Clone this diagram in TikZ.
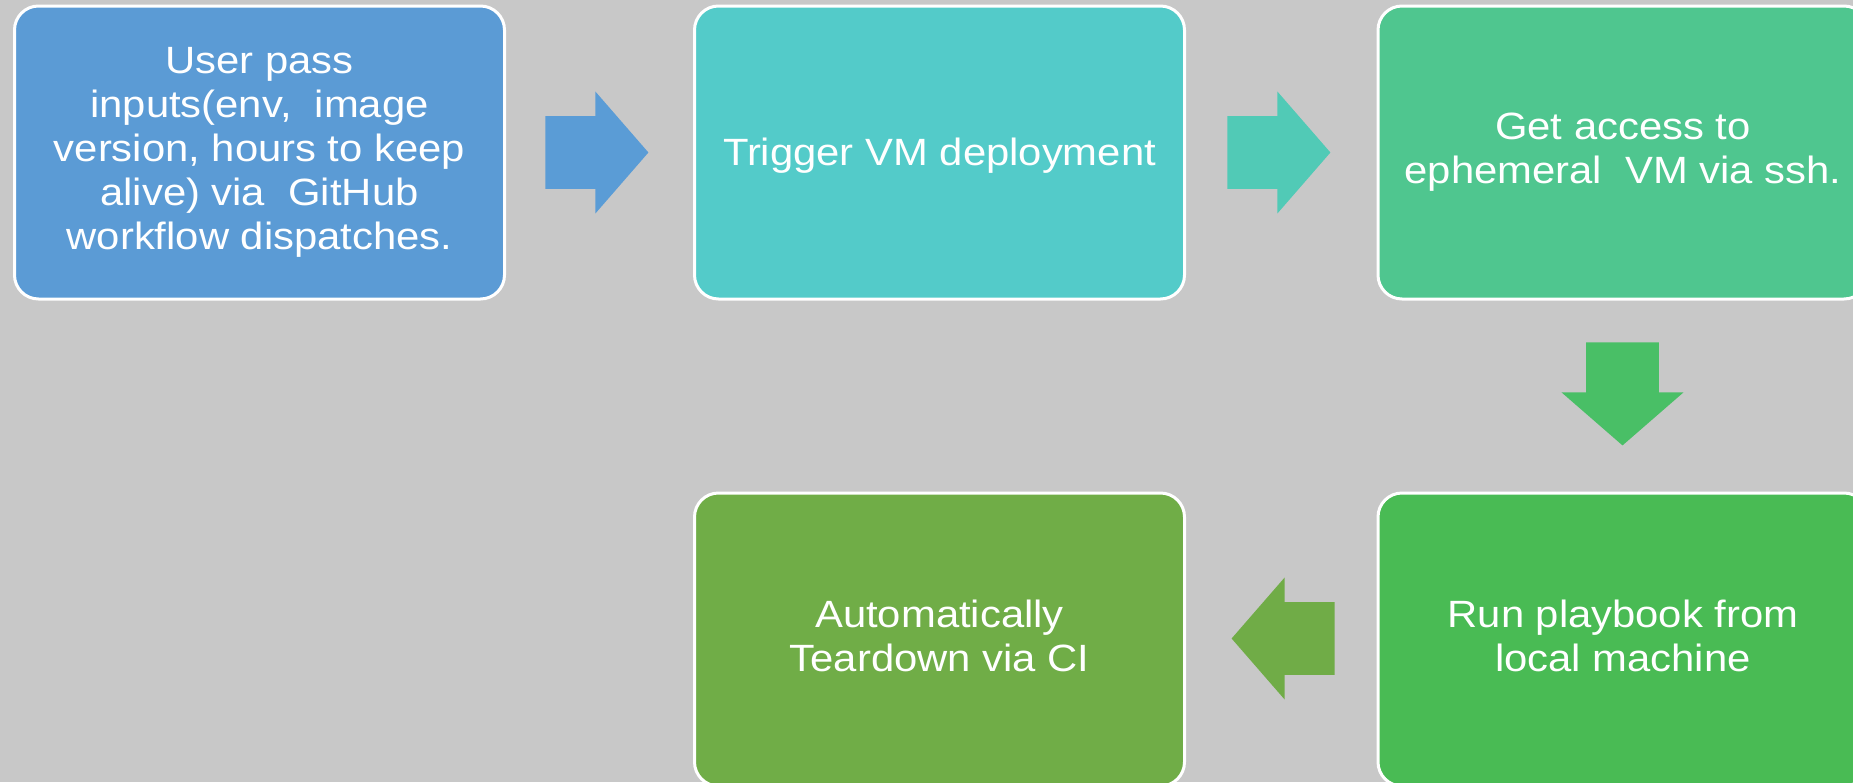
\documentclass[tikz,border=0pt]{standalone}
\usepackage{fontspec}
\setmainfont{Liberation Sans}[FakeStretch=1.1]
\usetikzlibrary{shapes.arrows}

\definecolor{bggray}{HTML}{C8C8C8}
\definecolor{stepblue}{HTML}{5B9BD5}
\definecolor{stepteal}{HTML}{53CBC9}
\definecolor{stepmint}{HTML}{4FC68F}
\definecolor{stepgreen}{HTML}{49BB54}
\definecolor{stepolive}{HTML}{70AD47}
\definecolor{arrowblue}{HTML}{5A9CD6}
\definecolor{arrowteal}{HTML}{51CAB6}
\definecolor{arrowgreen}{HTML}{49BF66}
\definecolor{arrowolive}{HTML}{70AC47}

\begin{document}
\begin{tikzpicture}[x=0.5pt,y=-0.5pt,
  stepbox/.style={draw=white, line width=1.5pt, rounded corners=12pt,
    minimum width=245pt, minimum height=146.5pt, inner sep=0pt,
    text=white, align=center, font=\fontsize{19}{21.9}\selectfont,
    execute at begin node={\rule{0pt}{17pt}},
    execute at end node={\rule[-4pt]{0pt}{0pt}}},
  blockarrow/.style={single arrow, draw=none, anchor=tail,
    inner xsep=0pt, inner ysep=18pt,
    minimum height=51.5pt, minimum width=60.5pt,
    single arrow head extend=12.25pt, single arrow tip angle=98}]

  % canvas
  \fill[bggray] (0,0) rectangle (1853,782);
  \useasboundingbox (0,0) rectangle (1853,782);
  \clip (0,0) rectangle (1853,782);

  % process steps
  \node[stepbox, fill=stepblue] (b1) at (259.5,152.5)
    {User pass\\inputs(env,\ \ image\\version, hours to keep\\alive) via\ \ GitHub\\workflow dispatches.};
  \node[stepbox, fill=stepteal] (b2) at (939.5,152.5) {Trigger VM deployment};
  \node[stepbox, fill=stepmint] (b3) at (1623,152.5) {Get access to\\ephemeral\ \ VM via ssh.};
  \node[stepbox, fill=stepgreen] (b5) at (1623,639.5) {Run playbook from\\local machine};
  \node[stepbox, fill=stepolive] (b4) at (939.5,639.5) {Automatically\\Teardown via CI};

  % block arrows between the steps, placed by their tails
  \node[blockarrow, fill=arrowblue] (a1) at (545,152.5) {};
  \node[blockarrow, fill=arrowteal] (a2) at (1227,152.5) {};
  \node[blockarrow, fill=arrowgreen, rotate=-90] (a3) at (1622.5,342) {};
  \node[blockarrow, fill=arrowolive, rotate=180] (a4) at (1335,638.5) {};
\end{tikzpicture}
\end{document}
